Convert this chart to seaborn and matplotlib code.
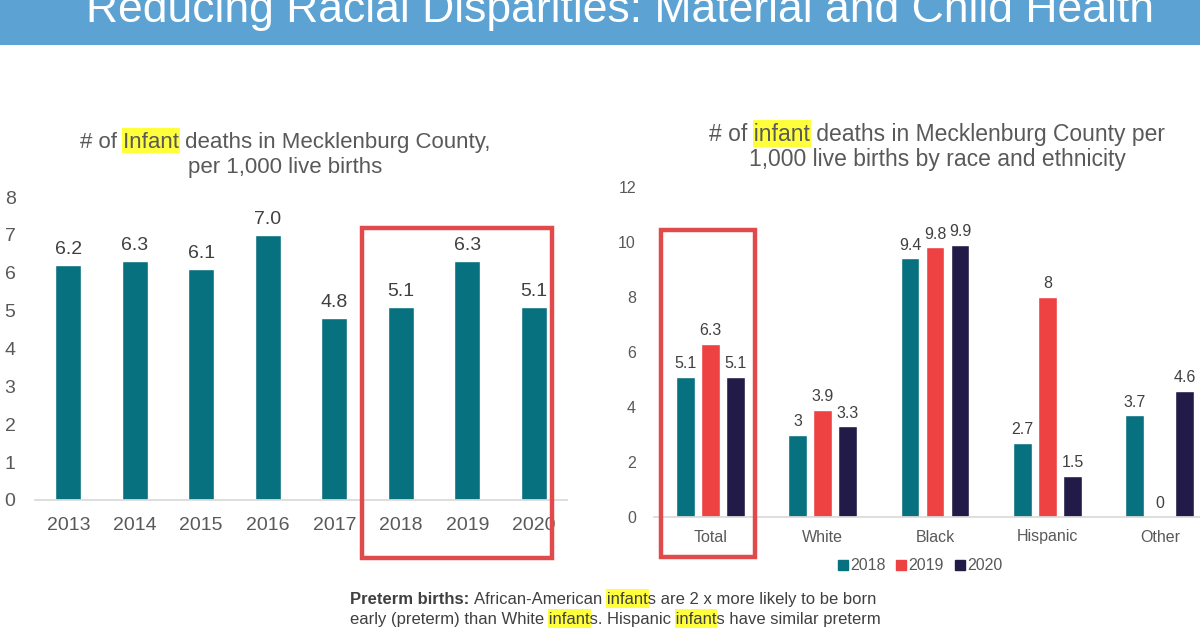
import numpy as np
import pandas as pd
import matplotlib
matplotlib.use("Agg")
import matplotlib.pyplot as plt
import seaborn as sns
from matplotlib.patches import Rectangle
from matplotlib.font_manager import FontProperties

# Data
years = ['2013', '2014', '2015', '2016', '2017', '2018', '2019', '2020']
infant_rate = [6.2, 6.3, 6.1, 7.0, 4.8, 5.1, 6.3, 5.1]

groups = ['Total', 'White', 'Black', 'Hispanic', 'Other']
series_years = ['2018', '2019', '2020']
rate_2018 = [5.1, 3, 9.4, 2.7, 3.7]
rate_2019 = [6.3, 3.9, 9.8, 8, 0]
rate_2020 = [5.1, 3.3, 9.9, 1.5, 4.6]

TEAL = '#08717F'
RED = '#EE4141'
NAVY = '#221B48'
BOX = '#E04A4A'
HL = '#FFFF3C'
GREY = '#595959'
DARK = '#404040'

sns.set_theme(style='white')
plt.rcParams['font.family'] = ['Liberation Sans', 'DejaVu Sans']

W, H = 1200, 630
fig = plt.figure(figsize=(12, 6.3), dpi=100)


def fx(x):
    return x / W


def fy(y):
    return 1 - y / H


# Banner
fig.patches.append(Rectangle((0, fy(45)), 1, 45 / H, transform=fig.transFigure,
                             facecolor='#5CA3D3', edgecolor='none', zorder=0))
fig.text(fx(620), fy(22), 'Reducing Racial Disparities: Material and Child Health',
         color='white', fontsize=32, ha='center', va='baseline')

renderer = fig.canvas.get_renderer()


def text_w(s, size, weight='normal'):
    fp = FontProperties(family='Liberation Sans', size=size, weight=weight)
    w1 = renderer.get_text_width_height_descent('|' + s + '|', fp, ismath=False)[0]
    w0 = renderer.get_text_width_height_descent('||', fp, ismath=False)[0]
    return w1 - w0


def highlight_line(x, y, line, words, size, ha='center', color=DARK, prefix=None):
    # draws one line of text, with yellow boxes behind given words
    size_px = size / 0.72
    full = line if prefix is None else prefix + ' ' + line
    total = text_w(full, size) if prefix is None else text_w(prefix, size, 'bold') + text_w(' ' + line, size)
    left = x - total / 2 if ha == 'center' else x
    start = left
    if prefix is not None:
        fig.text(fx(left), fy(y), prefix, fontsize=size, fontweight='bold', color=color,
                 ha='left', va='baseline', zorder=3)
        start = left + text_w(prefix + ' ', size, 'bold')
    fig.text(fx(start), fy(y), line, fontsize=size, color=color, ha='left', va='baseline', zorder=3)
    for word in words:
        i = line.find(word)
        while i >= 0:
            x0 = start + text_w(line[:i], size)
            ww = text_w(word, size)
            fig.patches.append(Rectangle((fx(x0 - 1), fy(y + 0.24 * size_px)), (ww + 2) / W,
                                         1.16 * size_px / H, transform=fig.transFigure,
                                         facecolor=HL, edgecolor='none', zorder=2))
            i = line.find(word, i + len(word))


# Left chart
ax1 = fig.add_axes([fx(35), fy(500), fx(567 - 35), (500 - 197) / H])
df1 = pd.DataFrame({'year': years, 'rate': infant_rate})
sns.barplot(data=df1, x='year', y='rate', color=TEAL, saturation=1, width=0.39, ax=ax1)
ax1.set_ylim(0, 8)
ax1.set_xlim(-0.5, 7.5)
ax1.set_yticks(range(0, 9))
ax1.set_xlabel('')
ax1.set_ylabel('')
ax1.tick_params(axis='both', length=0, labelsize=14, colors=GREY)
ax1.tick_params(axis='y', pad=14)
ax1.tick_params(axis='x', pad=12)
for s in ['top', 'right', 'left']:
    ax1.spines[s].set_visible(False)
ax1.spines['bottom'].set_color('#D9D9D9')
ax1.bar_label(ax1.containers[0], labels=[f'{v:.1f}' for v in infant_rate],
              padding=5, fontsize=14, color=DARK)

highlight_line(285, 148, '# of Infant deaths in Mecklenburg County,', ['Infant'], 16, color=GREY)
highlight_line(285, 173, 'per 1,000 live births', [], 16, color=GREY)

# Right chart
ax2 = fig.add_axes([fx(654), fy(517), fx(1216 - 654), (517 - 187) / H])
df2 = pd.DataFrame({
    'group': groups * 3,
    'year': [y for y in series_years for _ in groups],
    'rate': rate_2018 + rate_2019 + rate_2020,
})
sns.barplot(data=df2, x='group', y='rate', hue='year', palette=[TEAL, RED, NAVY],
            saturation=1, width=0.667, gap=0.25, legend=False, ax=ax2)
ax2.set_ylim(0, 12)
ax2.set_xlim(-0.5, 4.5)
ax2.set_yticks(range(0, 13, 2))
ax2.set_xlabel('')
ax2.set_ylabel('')
ax2.tick_params(axis='both', length=0, labelsize=11.5, colors=GREY)
ax2.tick_params(axis='y', pad=13)
ax2.tick_params(axis='x', pad=9)
for s in ['top', 'right', 'left']:
    ax2.spines[s].set_visible(False)
ax2.spines['bottom'].set_color('#D9D9D9')
for cont, vals in zip(ax2.containers, [rate_2018, rate_2019, rate_2020]):
    ax2.bar_label(cont, labels=[f'{v:g}' for v in vals], padding=4, fontsize=11.5, color=DARK)

handles = [plt.Line2D([], [], marker='s', linestyle='', color=c, markersize=7.5)
           for c in [TEAL, RED, NAVY]]
fig.legend(handles, series_years, loc='center', bbox_to_anchor=(fx(920), fy(566)), ncol=3,
           frameon=False, fontsize=11.5, handlelength=0.6, handletextpad=0.15,
           columnspacing=0.7, labelcolor=GREY)

highlight_line(937, 141, '# of infant deaths in Mecklenburg County per', ['infant'], 16.5, color=GREY)
highlight_line(937, 166, '1,000 live births by race and ethnicity', [], 16.5, color=GREY)

# Red boxes
for x0, y0, x1, y1 in [(362, 228, 552, 558), (661, 230, 755, 557)]:
    fig.patches.append(Rectangle((fx(x0), fy(y1)), fx(x1 - x0), (y1 - y0) / H,
                                 transform=fig.transFigure, fill=False,
                                 edgecolor=BOX, linewidth=3.2, zorder=5))

# Footnote
highlight_line(350, 604, 'African-American infants are 2 x more likely to be born',
               ['infant'], 12, ha='left', color=DARK, prefix='Preterm births:')
highlight_line(350, 624, 'early (preterm) than White infants. Hispanic infants have similar preterm',
               ['infant'], 12, ha='left', color=DARK)

fig.savefig('out.png', dpi=100)
